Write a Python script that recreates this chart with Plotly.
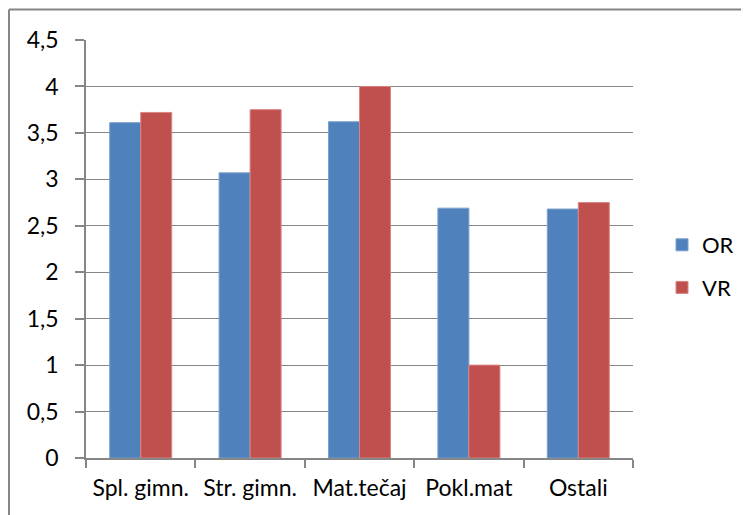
import plotly.graph_objects as go

categories = ["Spl. gimn.", "Str. gimn.", "Mat.tečaj", "Pokl.mat", "Ostali"]
or_values = [3.61, 3.07, 3.62, 2.69, 2.68]
vr_values = [3.72, 3.75, 4.00, 1.00, 2.75]
y_tickvals = [0, 0.5, 1, 1.5, 2, 2.5, 3, 3.5, 4, 4.5]
y_ticktext = ["0", "0,5", "1", "1,5", "2", "2,5", "3", "3,5", "4", "4,5"]

OFF = 8  # page body margin
W, H = 749 - 2 * OFF, 515 - OFF
L, T, B = 86 - OFF, 40 - OFF, 57
R = W - L - 547
FONT = "Lato"
FS = 23

fig = go.Figure()
fig.add_trace(go.Bar(x=categories, y=or_values, name="OR",
                     marker=dict(color="#4F81BD", line=dict(color="#7BA0CD", width=1)),
                     legendgroup="a"))
fig.add_trace(go.Bar(x=categories, y=vr_values, name="VR",
                     marker=dict(color="#C0504D", line=dict(color="#D88583", width=1)),
                     legendgroup="b"))

pw = W - L - R
ph = H - T - B
def px_x(p):
    return (p - OFF - L) / pw
def px_y(p):
    return (H - B - (p - OFF)) / ph

fig.update_layout(
    width=W, height=H,
    margin=dict(l=L, r=R, t=T, b=B, pad=0, autoexpand=False),
    paper_bgcolor="white", plot_bgcolor="white",
    font=dict(family=FONT, size=FS, color="black"),
    barmode="group", bargap=0.433, bargroupgap=0,
    showlegend=True,
    legend=dict(x=px_x(662), y=px_y(224), xanchor="left", yanchor="top",
                traceorder="grouped", tracegroupgap=11, itemwidth=30,
                font=dict(family=FONT, size=22, color="black"),
                bgcolor="rgba(0,0,0,0)"),
    xaxis=dict(showgrid=False, showline=True, linecolor="#868686", linewidth=1.5,
               ticks="outside", tickson="boundaries", ticklen=8, tickcolor="#868686",
               tickwidth=1.5, ticklabelstandoff=9, tickangle=0, automargin=False,
               tickfont=dict(family=FONT, size=FS, color="black")),
    yaxis=dict(range=[0, 4.5], tickvals=y_tickvals, ticktext=y_ticktext,
               showgrid=True, gridcolor="#868686", gridwidth=1.3,
               showline=True, linecolor="#868686", linewidth=1.5,
               ticks="outside", ticklen=9, tickcolor="#868686", tickwidth=1.5,
               ticklabelstandoff=12, zeroline=False, automargin=False,
               tickfont=dict(family=FONT, size=FS, color="black")),
    shapes=[
        dict(type="line", xref="paper", yref="paper",
             x0=px_x(9), x1=px_x(760), y0=px_y(9.5), y1=px_y(9.5),
             line=dict(color="#868686", width=2)),
        dict(type="line", xref="paper", yref="paper",
             x0=px_x(9), x1=px_x(9), y0=px_y(9.5), y1=px_y(530),
             line=dict(color="#868686", width=2)),
    ],
)

fig.write_html("out.html")
